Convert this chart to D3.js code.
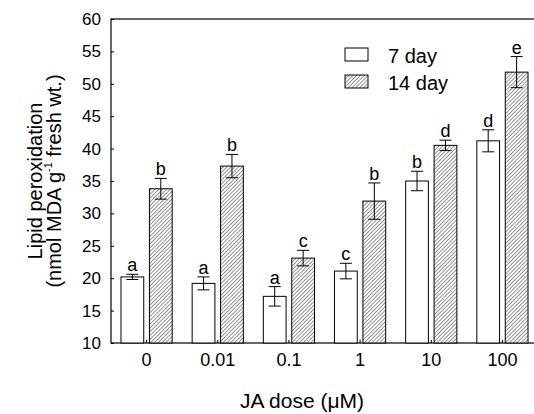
<!DOCTYPE html>
<html>
<head>
<meta charset="utf-8">
<script src="https://cdn.jsdelivr.net/npm/d3@7"></script>
<style>
  body { margin: 0; background: #fff; }
  text { font-family: Arial, "Liberation Sans", sans-serif; fill: #000; }
</style>
</head>
<body>
<svg id="chart" width="534" height="414"></svg>
<script>
const doses = ['0', '0.01', '0.1', '1', '10', '100'];
const series = ['7 day', '14 day'];
const day7 = [20.2, 19.2, 17.2, 21.1, 35.0, 41.2];
const day14 = [33.8, 37.3, 23.1, 31.9, 40.5, 51.8];
const err7 = [0.4, 1.0, 1.5, 1.2, 1.5, 1.7];
const err14 = [1.6, 1.8, 1.2, 2.8, 0.8, 2.4];
const letters7 = ['a', 'a', 'a', 'c', 'b', 'd'];
const letters14 = ['b', 'b', 'c', 'b', 'd', 'e'];
const yTicks = [10, 15, 20, 25, 30, 35, 40, 45, 50, 55, 60];

const svg = d3.select('#chart');
const mLeft = 111, mRight = 538, mTop = 19, mBottom = 343;

// hatch pattern for the 14 day bars
svg.append('defs').append('pattern')
  .attr('id', 'hatch')
  .attr('patternUnits', 'userSpaceOnUse')
  .attr('width', 2.7).attr('height', 2.7)
  .attr('patternTransform', 'rotate(45)')
  .call(p => {
    p.append('rect').attr('width', 2.7).attr('height', 2.7).attr('fill', '#fff');
    p.append('line').attr('x1', 0).attr('y1', 0).attr('x2', 0).attr('y2', 2.7)
      .attr('stroke', '#2a2a2a').attr('stroke-width', 1);
  });

const x0 = d3.scaleBand().domain(doses).range([mLeft, mRight]);
const half = 25.6;
const x1 = d3.scaleBand().domain(series)
  .range([x0.bandwidth() / 2 - half, x0.bandwidth() / 2 + half])
  .paddingInner(0.2);
const y = d3.scaleLinear().domain([10, 60]).range([mBottom, mTop]);

const rows = [];
doses.forEach((d, i) => {
  rows.push({dose: d, s: '7 day', v: day7[i], e: err7[i], l: letters7[i]});
  rows.push({dose: d, s: '14 day', v: day14[i], e: err14[i], l: letters14[i]});
});

// frame
svg.append('rect')
  .attr('x', mLeft).attr('y', mTop)
  .attr('width', mRight - mLeft).attr('height', mBottom - mTop)
  .attr('fill', 'none').attr('stroke', '#000').attr('stroke-width', 1.2);

// bars
const g = svg.append('g');
g.selectAll('rect.bar')
  .data(rows)
  .enter()
  .append('rect')
  .attr('class', 'bar')
  .attr('x', d => x0(d.dose) + x1(d.s))
  .attr('y', d => y(d.v))
  .attr('width', x1.bandwidth())
  .attr('height', d => y(10) - y(d.v))
  .attr('fill', d => d.s === '7 day' ? '#fff' : 'url(#hatch)')
  .attr('stroke', '#000')
  .attr('stroke-width', 1);

// error bars
const cx = d => x0(d.dose) + x1(d.s) + x1.bandwidth() / 2;
const err = g.selectAll('g.err').data(rows).enter().append('g')
  .attr('stroke', '#000').attr('stroke-width', 1);
err.append('line')
  .attr('x1', cx).attr('x2', cx)
  .attr('y1', d => y(d.v - d.e)).attr('y2', d => y(d.v + d.e));
err.append('line')
  .attr('x1', d => cx(d) - 6).attr('x2', d => cx(d) + 6)
  .attr('y1', d => y(d.v + d.e)).attr('y2', d => y(d.v + d.e));
err.append('line')
  .attr('x1', d => cx(d) - 6).attr('x2', d => cx(d) + 6)
  .attr('y1', d => y(d.v - d.e)).attr('y2', d => y(d.v - d.e));

// significance letters
g.selectAll('text.sig').data(rows).enter().append('text')
  .attr('class', 'sig')
  .attr('x', cx)
  .attr('y', d => y(d.v + d.e) - 3)
  .attr('text-anchor', 'middle')
  .attr('font-size', 18)
  .text(d => d.l);

// y axis ticks (inside) and labels
const yAxis = svg.append('g').attr('transform', `translate(${mLeft},0)`)
  .call(d3.axisLeft(y).tickValues(yTicks).tickSizeInner(-3).tickSizeOuter(0).tickPadding(10));
yAxis.select('.domain').remove();
yAxis.selectAll('text').attr('font-size', 17).attr('font-family', 'Arial, "Liberation Sans", sans-serif');

// x axis ticks (inside) and labels
const xAxis = svg.append('g').attr('transform', `translate(0,${mBottom})`)
  .call(d3.axisBottom(x0).tickSizeInner(-3).tickSizeOuter(0).tickPadding(10));
xAxis.select('.domain').remove();
xAxis.selectAll('text').attr('font-size', 18).attr('font-family', 'Arial, "Liberation Sans", sans-serif');

// x title
svg.append('text')
  .attr('x', 302).attr('y', 408)
  .attr('text-anchor', 'middle')
  .attr('font-size', 21)
  .text('JA dose (\u03bcM)');

// y title
const yt = svg.append('text')
  .attr('transform', `translate(42,${(mTop + mBottom) / 2}) rotate(-90)`)
  .attr('text-anchor', 'middle')
  .attr('font-size', 20);
yt.append('tspan').attr('x', 0).attr('y', 0).text('Lipid peroxidation');
const l2 = yt.append('tspan').attr('x', 0).attr('y', 19);
l2.append('tspan').text('(nmol MDA g');
l2.append('tspan').attr('font-size', 11).attr('dy', -9).text('-1');
l2.append('tspan').attr('dy', 9).text(' fresh wt.)');

// legend
const legend = svg.append('g').selectAll('g').data(series).enter().append('g')
  .attr('transform', (d, i) => `translate(345,${48 + i * 27})`);
legend.append('rect')
  .attr('width', 23).attr('height', 13)
  .attr('fill', d => d === '7 day' ? '#fff' : 'url(#hatch)')
  .attr('stroke', '#000').attr('stroke-width', 1);
legend.append('text')
  .attr('x', 43).attr('y', 15)
  .attr('font-size', 20)
  .text(d => d);
</script>
</body>
</html>
